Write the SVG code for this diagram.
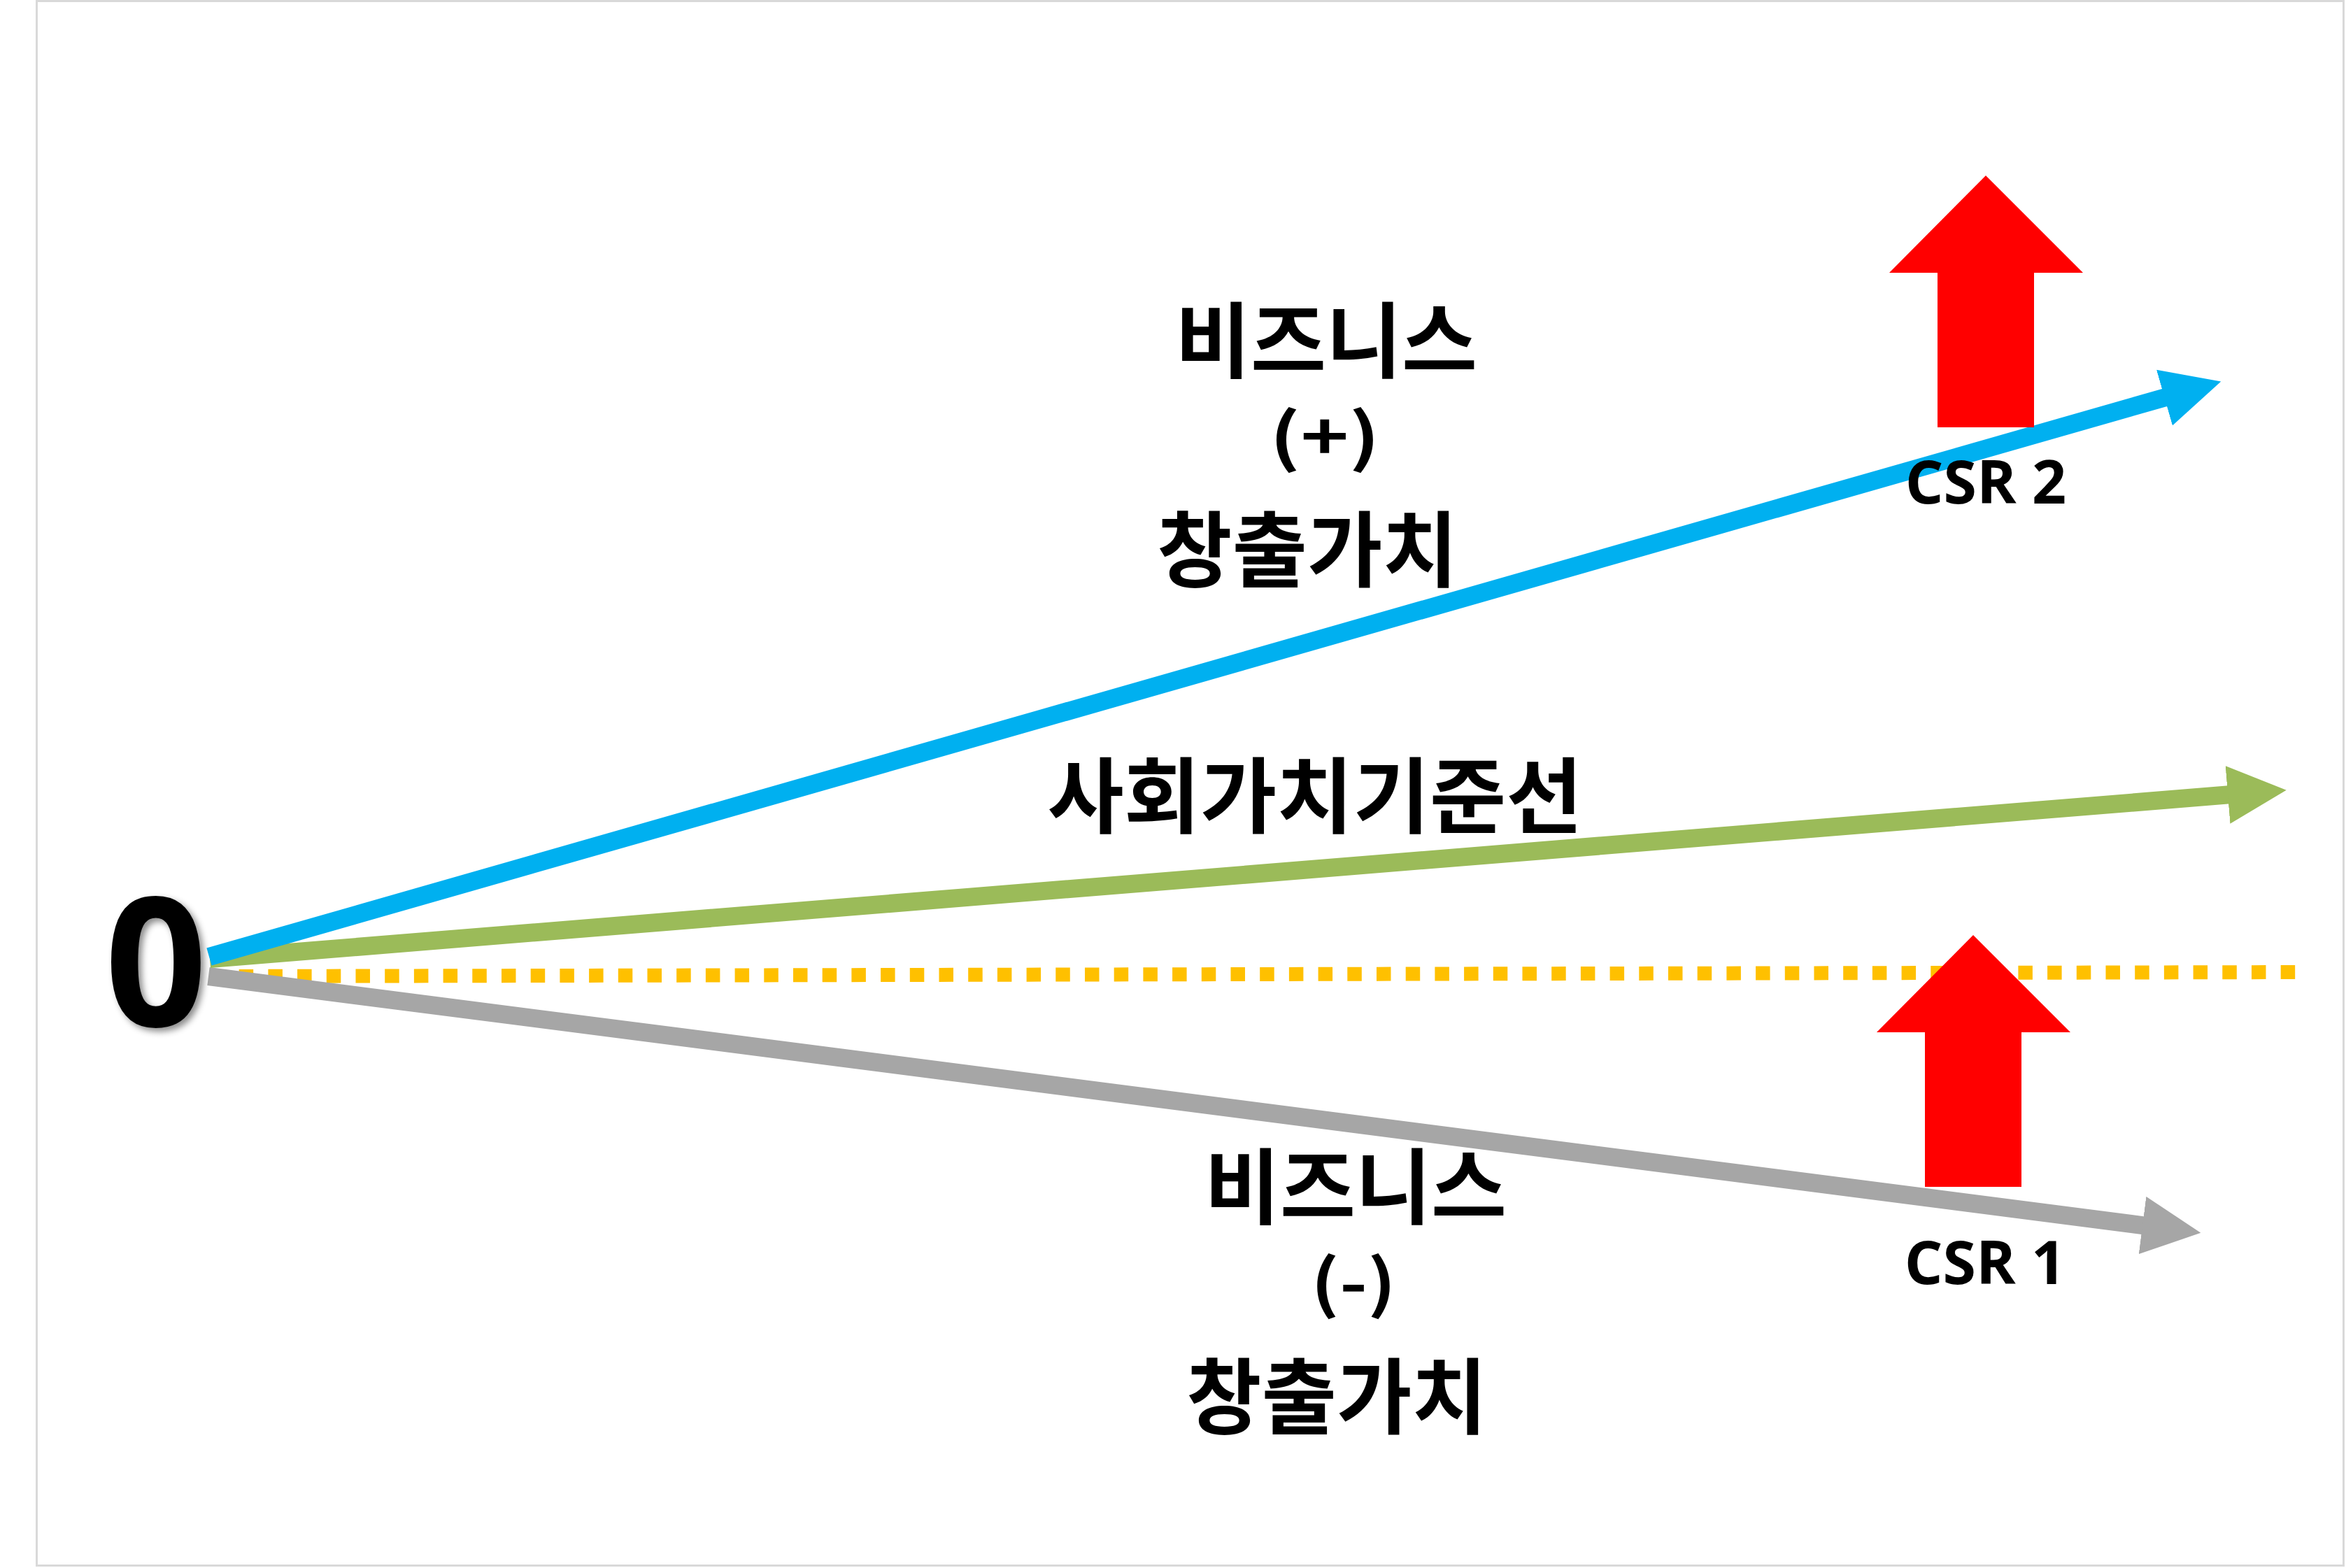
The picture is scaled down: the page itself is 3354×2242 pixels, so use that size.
<svg xmlns="http://www.w3.org/2000/svg" width="3354" height="2242" viewBox="0 0 3354 2242">
<defs>
<style>
.ko{font-family:"Noto Sans CJK KR","Noto Sans",sans-serif;font-weight:bold;font-size:118px;fill:#000;text-anchor:middle}
.par{font-family:"Noto Sans CJK KR","Noto Sans",sans-serif;font-weight:bold;font-size:91px;fill:#000;text-anchor:middle}
.lat{font-family:"Open Sans","Noto Sans",sans-serif;font-weight:bold;fill:#000;text-anchor:middle}
.conn{fill:none;stroke-width:26;stroke-linecap:butt}
</style>
<marker id="hBlue" markerUnits="userSpaceOnUse" viewBox="0 0 84 83" markerWidth="84" markerHeight="83" refX="2" refY="41.5" orient="auto"><path d="M0,0 L84,41.5 L0,83 Z" fill="#00B0F0"/></marker>
<marker id="hGreen" markerUnits="userSpaceOnUse" viewBox="0 0 84 83" markerWidth="84" markerHeight="83" refX="2" refY="41.5" orient="auto"><path d="M0,0 L84,41.5 L0,83 Z" fill="#9BBB59"/></marker>
<marker id="hGray" markerUnits="userSpaceOnUse" viewBox="0 0 84 83" markerWidth="84" markerHeight="83" refX="2" refY="41.5" orient="auto"><path d="M0,0 L84,41.5 L0,83 Z" fill="#A6A6A6"/></marker>
<filter id="shadow" x="-20%" y="-20%" width="150%" height="150%"><feDropShadow dx="5" dy="5" stdDeviation="5" flood-color="#000" flood-opacity="0.45"/></filter>
</defs>
<rect x="0" y="0" width="3354" height="2242" fill="#fff"/>
<rect x="52.5" y="1.5" width="3298" height="2237" fill="#fff" stroke="#d9d9d9" stroke-width="3"/>
<g id="connectors">
<line id="baseline-dotted" x1="300" y1="1396" x2="3290" y2="1390" stroke="#FFC000" stroke-width="20" stroke-dasharray="20.5 21.2"/>
<line id="csr1-line" class="conn" x1="298" y1="1396" x2="3065" y2="1752.3" stroke="#A6A6A6" marker-end="url(#hGray)"/>
<line id="social-line" class="conn" x1="300" y1="1371" x2="3187" y2="1136.3" stroke="#9BBB59" marker-end="url(#hGreen)"/>
<line id="csr2-line" class="conn" x1="299" y1="1368" x2="3096.4" y2="568" stroke="#00B0F0" marker-end="url(#hBlue)"/>
</g>
<g id="red-arrow-upper"><path d="M2839,251 L2978,390 L2908,390 L2908,611 L2770,611 L2770,390 L2701,390 Z" fill="#FF0000"/></g>
<g id="red-arrow-lower"><path d="M2821,1337 L2960,1476 L2890,1476 L2890,1697 L2752,1697 L2752,1476 L2683,1476 Z" fill="#FF0000"/></g>
<g id="origin"><text class="lat" x="223" y="1467" font-size="256" filter="url(#shadow)">0</text></g>
<g id="label-positive">
<text class="ko" x="1896" y="531" textLength="432" lengthAdjust="spacingAndGlyphs">비즈니스</text>
<text class="par" x="1894" y="658" textLength="158" lengthAdjust="spacingAndGlyphs">(+)</text>
<text class="ko" x="1869" y="830" textLength="430" lengthAdjust="spacingAndGlyphs">창출가치</text>
</g>
<g id="label-social"><text class="ko" x="1880" y="1182" textLength="765" lengthAdjust="spacingAndGlyphs">사회가치기준선</text></g>
<g id="label-negative">
<text class="ko" x="1938" y="1741" textLength="432" lengthAdjust="spacingAndGlyphs">비즈니스</text>
<text class="par" x="1935" y="1868" textLength="122" lengthAdjust="spacingAndGlyphs">(-)</text>
<text class="ko" x="1911" y="2041" textLength="430" lengthAdjust="spacingAndGlyphs">창출가치</text>
</g>
<g id="csr2"><text class="lat" x="2839" y="720" font-size="86">CSR 2</text></g>
<g id="csr1"><text class="lat" x="2838" y="1836" font-size="86">CSR 1</text></g>
</svg>
